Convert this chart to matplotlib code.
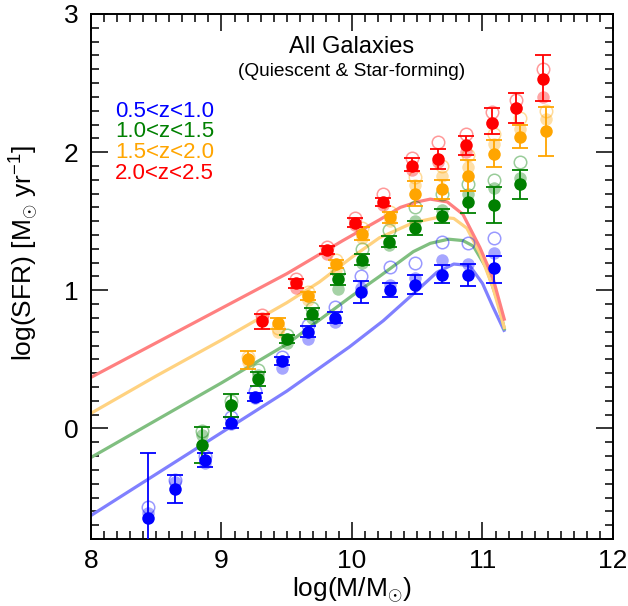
import matplotlib
matplotlib.use('Agg')
import matplotlib.pyplot as plt
from matplotlib.ticker import MultipleLocator

plt.rcParams['font.family'] = ['Liberation Sans', 'DejaVu Sans']
plt.rcParams['mathtext.fontset'] = 'custom'
plt.rcParams['mathtext.rm'] = 'Liberation Sans'
plt.rcParams['mathtext.it'] = 'Liberation Sans:italic'

# ---- redshift bins ------------------------------------------------------
labels = ['0.5<z<1.0', '1.0<z<1.5', '1.5<z<2.0', '2.0<z<2.5']
colors = ['#0000FF', '#008000', '#FFA500', '#FF0000']
line_colors = ['#8080FF', '#80BF80', '#FFD280', '#FF8080']

# ---- measured SFR (main), two alternative estimates (faint / open) --------
mass_blue = [8.44, 8.64, 8.87, 9.07, 9.26, 9.46, 9.66, 9.87, 10.07, 10.29, 10.48, 10.69, 10.89, 11.09]
sfr_blue = [-0.65, -0.44, -0.23, 0.04, 0.23, 0.49, 0.70, 0.80, 0.99, 1.00, 1.04, 1.11, 1.11, 1.16]
err_lo_blue = [0.60, 0.10, 0.05, 0.04, 0.03, 0.03, 0.04, 0.04, 0.08, 0.05, 0.07, 0.06, 0.08, 0.11]
err_hi_blue = [0.47, 0.10, 0.05, 0.04, 0.03, 0.03, 0.04, 0.04, 0.08, 0.05, 0.07, 0.07, 0.08, 0.09]
alt1_blue = [-0.61, -0.39, -0.25, 0.03, 0.22, 0.44, 0.65, 0.77, 1.02, 1.04, 1.09, 1.22, 1.19, 1.27]
alt2_blue = [-0.57, -0.37, -0.20, 0.08, 0.27, 0.52, 0.75, 0.88, 1.10, 1.17, 1.20, 1.35, 1.34, 1.38]

mass_green = [8.85, 9.07, 9.28, 9.50, 9.69, 9.89, 10.08, 10.28, 10.48, 10.69, 10.89, 11.09, 11.29]
sfr_green = [-0.12, 0.17, 0.36, 0.65, 0.83, 1.08, 1.22, 1.35, 1.45, 1.54, 1.64, 1.62, 1.77]
err_lo_green = [0.13, 0.09, 0.05, 0.03, 0.04, 0.04, 0.04, 0.04, 0.05, 0.05, 0.08, 0.13, 0.11]
err_hi_green = [0.13, 0.08, 0.05, 0.03, 0.04, 0.04, 0.04, 0.04, 0.05, 0.05, 0.08, 0.13, 0.10]
alt1_green = [-0.05, 0.17, 0.39, 0.62, 0.80, 1.01, 1.20, 1.33, 1.50, 1.58, 1.70, 1.74, 1.81]
alt2_green = [-0.02, 0.20, 0.42, 0.68, 0.87, 1.13, 1.30, 1.44, 1.60, 1.70, 1.77, 1.80, 1.93]

mass_orange = [9.20, 9.43, 9.66, 9.88, 10.08, 10.29, 10.48, 10.69, 10.89, 11.09, 11.29, 11.49]
sfr_orange = [0.50, 0.76, 0.96, 1.19, 1.41, 1.53, 1.70, 1.73, 1.83, 1.99, 2.11, 2.15]
err_lo_orange = [0.07, 0.04, 0.03, 0.03, 0.045, 0.04, 0.09, 0.07, 0.11, 0.10, 0.08, 0.18]
err_hi_orange = [0.06, 0.04, 0.03, 0.03, 0.045, 0.04, 0.09, 0.07, 0.11, 0.10, 0.09, 0.18]
alt1_orange = [0.48, 0.70, 0.93, 1.15, 1.38, 1.50, 1.76, 1.83, 1.89, 2.06, 2.17, 2.24]
alt2_orange = [0.52, 0.73, 0.99, 1.22, 1.45, 1.57, 1.82, 1.90, 1.98, 2.13, 2.25, 2.30]

mass_red = [9.31, 9.57, 9.81, 10.02, 10.24, 10.46, 10.66, 10.87, 11.07, 11.26, 11.46]
sfr_red = [0.78, 1.05, 1.29, 1.49, 1.64, 1.90, 1.95, 2.05, 2.21, 2.32, 2.53]
err_lo_red = [0.06, 0.03, 0.03, 0.03, 0.03, 0.04, 0.07, 0.07, 0.08, 0.11, 0.16]
err_hi_red = [0.05, 0.03, 0.03, 0.03, 0.03, 0.06, 0.07, 0.07, 0.11, 0.11, 0.17]
alt1_red = [0.80, 1.02, 1.26, 1.47, 1.62, 1.87, 1.93, 2.00, 2.21, 2.32, 2.40]
alt2_red = [0.82, 1.08, 1.31, 1.52, 1.70, 1.96, 2.07, 2.13, 2.29, 2.38, 2.60]

# ---- model main-sequence curves --------------------------------------------
curve_mass_blue = [8.0, 8.5, 9.0, 9.5, 9.98, 10.24, 10.5, 10.65, 10.78, 10.9, 11.0, 11.08, 11.17]
curve_sfr_blue = [-0.63, -0.33, -0.03, 0.27, 0.59, 0.78, 1.00, 1.13, 1.19, 1.18, 1.05, 0.88, 0.70]
curve_mass_green = [8.0, 8.5, 9.0, 9.5, 10.0, 10.21, 10.47, 10.6, 10.74, 10.85, 10.93, 11.03, 11.12, 11.17]
curve_sfr_green = [-0.21, 0.06, 0.33, 0.61, 0.96, 1.10, 1.28, 1.34, 1.37, 1.36, 1.32, 1.16, 0.91, 0.71]
curve_mass_orange = [8.0, 8.5, 9.0, 9.5, 9.75, 10.0, 10.21, 10.47, 10.67, 10.78, 10.88, 10.98, 11.08, 11.17]
curve_sfr_orange = [0.11, 0.38, 0.64, 0.91, 1.06, 1.24, 1.38, 1.49, 1.53, 1.52, 1.45, 1.27, 1.02, 0.72]
curve_mass_red = [8.0, 8.5, 9.0, 9.5, 9.93, 10.21, 10.37, 10.5, 10.6, 10.73, 10.85, 10.98, 11.08, 11.17]
curve_sfr_red = [0.37, 0.62, 0.87, 1.12, 1.36, 1.51, 1.60, 1.64, 1.66, 1.64, 1.55, 1.31, 1.09, 0.78]

bins = [
    (mass_blue, sfr_blue, err_lo_blue, err_hi_blue, alt1_blue, alt2_blue, curve_mass_blue, curve_sfr_blue),
    (mass_green, sfr_green, err_lo_green, err_hi_green, alt1_green, alt2_green, curve_mass_green, curve_sfr_green),
    (mass_orange, sfr_orange, err_lo_orange, err_hi_orange, alt1_orange, alt2_orange, curve_mass_orange, curve_sfr_orange),
    (mass_red, sfr_red, err_lo_red, err_hi_red, alt1_red, alt2_red, curve_mass_red, curve_sfr_red),
]

fig = plt.figure(figsize=(6.28, 6.06), dpi=100)
ax = fig.add_axes([0.1449, 0.1106, 0.8312, 0.8663])

MS = 9
for i, (m, s, elo, ehi, a1, a2, cm, cs) in enumerate(bins):
    c = colors[i]
    ax.plot(cm, cs, color=line_colors[i], lw=2.3, zorder=2, solid_capstyle='butt')
    ax.plot(m, a1, 'o', ms=MS, color=c, alpha=0.35, mew=0, zorder=3)
    ax.plot(m, a2, 'o', ms=MS, mfc='none', mec=c, mew=1.1, alpha=0.4, zorder=3)
    ax.errorbar(m, s, yerr=[elo, ehi], fmt='none', ecolor=c,
                elinewidth=1.3, capsize=5.5, capthick=1.3, zorder=4)
    ax.plot(m, s, 'o', ms=MS, color=c, mew=0, zorder=5)

ax.set_xlim(8, 12)
ax.set_ylim(-0.8, 3)
ax.xaxis.set_major_locator(MultipleLocator(1))
ax.xaxis.set_minor_locator(MultipleLocator(0.1))
ax.yaxis.set_major_locator(MultipleLocator(1))
ax.yaxis.set_minor_locator(MultipleLocator(0.1))
ax.tick_params(which='both', direction='in', top=True, right=True, width=1.1,
               labelsize=19, colors='black')
ax.tick_params(which='major', length=12, pad=9)
ax.tick_params(axis='x', which='major', pad=7)
ax.tick_params(which='minor', length=6)
for sp in ax.spines.values():
    sp.set_linewidth(1.4)

ax.set_xlabel(r'log(M/M$_{\odot}$)', fontsize=19)
ax.xaxis.set_label_coords(0.5, -0.07)
ax.set_ylabel(r'log(SFR) [M$_{\odot}$ yr$^{-1}$]', fontsize=19)
ax.yaxis.set_label_coords(-0.095, 0.545)

ax.text(0.5, 0.937, 'All Galaxies', transform=ax.transAxes, ha='center', va='center', fontsize=17)
ax.text(0.5, 0.891, '(Quiescent & Star-forming)', transform=ax.transAxes, ha='center', va='center', fontsize=13.8)

for i, lab in enumerate(labels):
    ax.text(0.046, 0.815 - i * 0.0395, lab, transform=ax.transAxes, ha='left', va='center',
            fontsize=16, color=colors[i])

fig.savefig('out.png', dpi=100)
